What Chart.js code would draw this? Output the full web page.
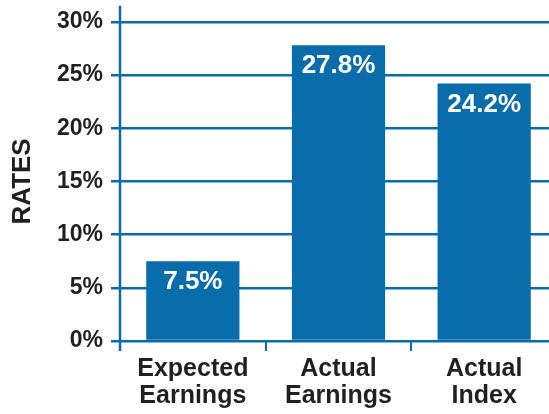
<!DOCTYPE html>
<html>
<head>
<meta charset="utf-8">
<script src="https://cdn.jsdelivr.net/npm/chart.js@4.4.1/dist/chart.umd.min.js"></script>
<style>
  html, body { margin: 0; padding: 0; background: #ffffff; overflow: hidden; }
  #wrap { position: relative; width: 557px; height: 414px; }
</style>
</head>
<body>
<div id="wrap"><canvas id="c"></canvas></div>
<script>
// Return rates by category
const categories = [['Expected', 'Earnings'], ['Actual', 'Earnings'], ['Actual', 'Index']];
const rates = [7.5, 27.8, 24.2];
const yTicks = [0, 5, 10, 15, 20, 25, 30];

const BLUE = '#0a6dab';
const INK = '#231f20';
const FONT = "'Liberation Sans', Arial, sans-serif";

// Value labels written inside the top of each bar
const barValueLabels = {
  id: 'barValueLabels',
  afterDatasetsDraw(chart) {
    const ctx = chart.ctx;
    const meta = chart.getDatasetMeta(0);
    ctx.save();
    ctx.fillStyle = '#ffffff';
    ctx.font = 'bold 26px ' + FONT;
    ctx.textAlign = 'center';
    ctx.textBaseline = 'alphabetic';
    meta.data.forEach((bar, i) => {
      ctx.fillText(rates[i].toFixed(1) + '%', bar.x, bar.y + 28);
    });
    ctx.restore();
  }
};

// Vertical axis line that rises a little above the top gridline
const axisLine = {
  id: 'axisLine',
  afterDraw(chart) {
    const { ctx, chartArea } = chart;
    ctx.save();
    ctx.strokeStyle = BLUE;
    ctx.lineWidth = 2.5;
    ctx.beginPath();
    ctx.moveTo(chartArea.left, chartArea.top - 16);
    ctx.lineTo(chartArea.left, chartArea.bottom + 10);
    ctx.stroke();
    ctx.restore();
  }
};

new Chart(document.getElementById('c'), {
  type: 'bar',
  data: {
    labels: categories,
    datasets: [{
      data: rates,
      backgroundColor: BLUE,
      borderWidth: 0,
      categoryPercentage: 1,
      barPercentage: 0.64
    }]
  },
  options: {
    responsive: true,
    maintainAspectRatio: false,
    animation: false,
    layout: { padding: { top: 21, right: 0, left: 7, bottom: 0 } },
    plugins: { legend: { display: false }, tooltip: { enabled: false } },
    scales: {
      x: {
        grid: {
          offset: true,
          drawOnChartArea: false,
          drawTicks: true,
          tickLength: 10,
          color: BLUE,
          lineWidth: 2
        },
        border: { display: false },
        ticks: {
          color: INK,
          font: { family: FONT, size: 25, weight: 'bold', lineHeight: 1.1 },
          padding: 4,
          maxRotation: 0
        },
        afterFit(scale) { scale.height = 73; }
      },
      y: {
        min: 0,
        max: 30,
        afterBuildTicks(scale) { scale.ticks = yTicks.map(v => ({ value: v })); },
        grid: {
          color: BLUE,
          lineWidth: 2.5,
          tickLength: 9
        },
        border: { display: false },
        ticks: {
          color: INK,
          font: { family: FONT, size: 23, weight: 'bold' },
          padding: 8,
          callback: v => v + '%'
        },
        title: {
          display: true,
          text: 'RATES',
          color: INK,
          font: { family: FONT, size: 26, weight: 'bold' },
          padding: { top: 0, bottom: 6 }
        },
        afterFit(scale) { scale.width = 113; }
      }
    }
  },
  plugins: [barValueLabels, axisLine]
});
</script>
</body>
</html>
